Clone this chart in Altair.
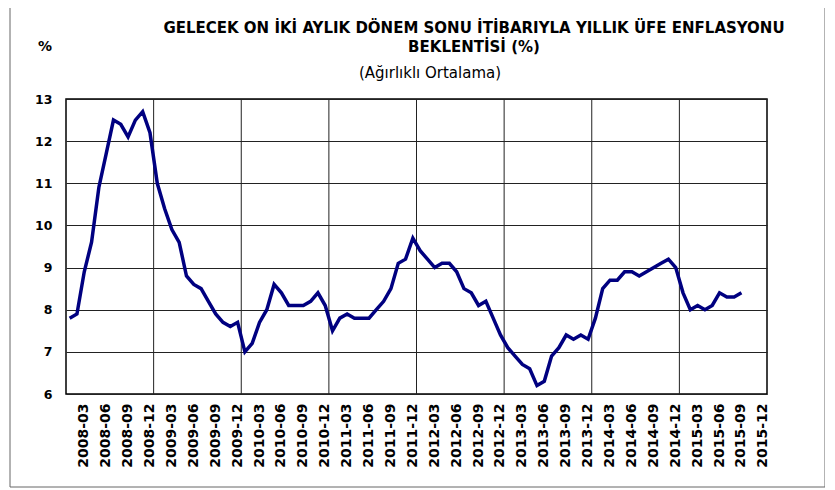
import altair as alt
import pandas as pd

# Monthly categories (2008-01 .. 2015-12)
years = list(range(2008, 2016))
months = [f"{y}-{m:02d}" for y in years for m in range(1, 13)]

# Axis labels (every third month)
tick_labels = [f"{y}-{m:02d}" for y in years for m in (3, 6, 9, 12)]

# Year boundaries for vertical gridlines
year_ends = ["2008-12", "2009-12", "2010-12", "2011-12", "2012-12", "2013-12", "2014-12"]

# Expected annual PPI inflation (weighted average), 2008-01 .. 2015-09
values = [
    7.8, 7.9, 8.9, 9.6, 10.9, 11.7, 12.5, 12.4, 12.1, 12.5, 12.7, 12.2,   # 2008
    11.0, 10.4, 9.9, 9.6, 8.8, 8.6, 8.5, 8.2, 7.9, 7.7, 7.6, 7.7,         # 2009
    7.0, 7.2, 7.7, 8.0, 8.6, 8.4, 8.1, 8.1, 8.1, 8.2, 8.4, 8.1,           # 2010
    7.5, 7.8, 7.9, 7.8, 7.8, 7.8, 8.0, 8.2, 8.5, 9.1, 9.2, 9.7,           # 2011
    9.4, 9.2, 9.0, 9.1, 9.1, 8.9, 8.5, 8.4, 8.1, 8.2, 7.8, 7.4,           # 2012
    7.1, 6.9, 6.7, 6.6, 6.2, 6.3, 6.9, 7.1, 7.4, 7.3, 7.4, 7.3,           # 2013
    7.8, 8.5, 8.7, 8.7, 8.9, 8.9, 8.8, 8.9, 9.0, 9.1, 9.2, 9.0,           # 2014
    8.4, 8.0, 8.1, 8.0, 8.1, 8.4, 8.3, 8.3, 8.4,                          # 2015
]

title_line1 = "GELECEK ON İKİ AYLIK DÖNEM SONU İTİBARIYLA YILLIK ÜFE  ENFLASYONU"
title_line2 = "BEKLENTİSİ (%)"
subtitle = "(Ağırlıklı Ortalama)"
unit_label = "%"

df = pd.DataFrame({"month": months[:len(values)], "value": values})
df_years = pd.DataFrame({"month": year_ends})

W, H = 701, 295
FONT = "DejaVu Sans"

xscale = alt.Scale(domain=months, type="band", paddingInner=0, paddingOuter=0)
xaxis = alt.Axis(
    values=tick_labels,
    labelAngle=270,
    labelAlign="right",
    labelBaseline="middle",
    labelPadding=9,
    ticks=False,
    domain=False,
    grid=False,
    labelFont=FONT,
    labelFontWeight="bold",
    labelFontSize=14,
    labelColor="#000000",
    labelOverlap=False,
    title=None,
)

grid_rules = alt.Chart(df_years).mark_rule(color="#222222", strokeWidth=1).encode(
    x=alt.X("month:N", scale=xscale, bandPosition=1, axis=xaxis)
)

line = alt.Chart(df).mark_line(color="#000080", strokeWidth=3.5).encode(
    x=alt.X("month:N", scale=xscale, bandPosition=0.5, axis=xaxis),
    y=alt.Y(
        "value:Q",
        scale=alt.Scale(domain=[6, 13], nice=False, zero=False),
        title=None,
        axis=alt.Axis(
            values=[6, 7, 8, 9, 10, 11, 12, 13],
            ticks=False,
            domain=False,
            grid=True,
            gridColor="#222222",
            gridWidth=1,
            labelPadding=14,
            labelFont=FONT,
            labelFontWeight="bold",
            labelFontSize=12.5,
            labelColor="#000000",
        ),
    ),
)

one = alt.Data(values=[{}])

def txt(text, x, y, size, weight="bold", align="center"):
    return alt.Chart(one).mark_text(
        text=text, font=FONT, fontSize=size, fontWeight=weight,
        align=align, baseline="middle", color="#000000",
    ).encode(x=alt.value(x), y=alt.value(y))

t1 = txt(title_line1, 408, -71, 15)
t2 = txt(title_line2, 408, -52, 15)
t3 = txt(subtitle, 364, -26, 15, weight="normal")
t4 = txt(unit_label, -21, -52, 14)

frame_color = "#666666"
frame_left = alt.Chart(one).mark_rule(color=frame_color, strokeWidth=1).encode(
    x=alt.value(-56), y=alt.value(-91), y2=alt.value(388))
frame_right = alt.Chart(one).mark_rule(color=frame_color, strokeWidth=1).encode(
    x=alt.value(759), y=alt.value(-91), y2=alt.value(388))
frame_bottom = alt.Chart(one).mark_rule(color=frame_color, strokeWidth=1).encode(
    x=alt.value(-56), x2=alt.value(759), y=alt.value(388))

chart = alt.layer(
    grid_rules, line, t1, t2, t3, t4, frame_left, frame_right, frame_bottom
).properties(
    width=W, height=H,
    autosize=alt.AutoSizeParams(type="none"),
    padding={"left": 58, "top": 91, "right": 58, "bottom": 94},
).configure(
    background="#ffffff",
    view=alt.ViewConfig(stroke="#000000", strokeWidth=1.5),
)

chart.save("out.html", embed_options={"renderer": "svg", "actions": False})
